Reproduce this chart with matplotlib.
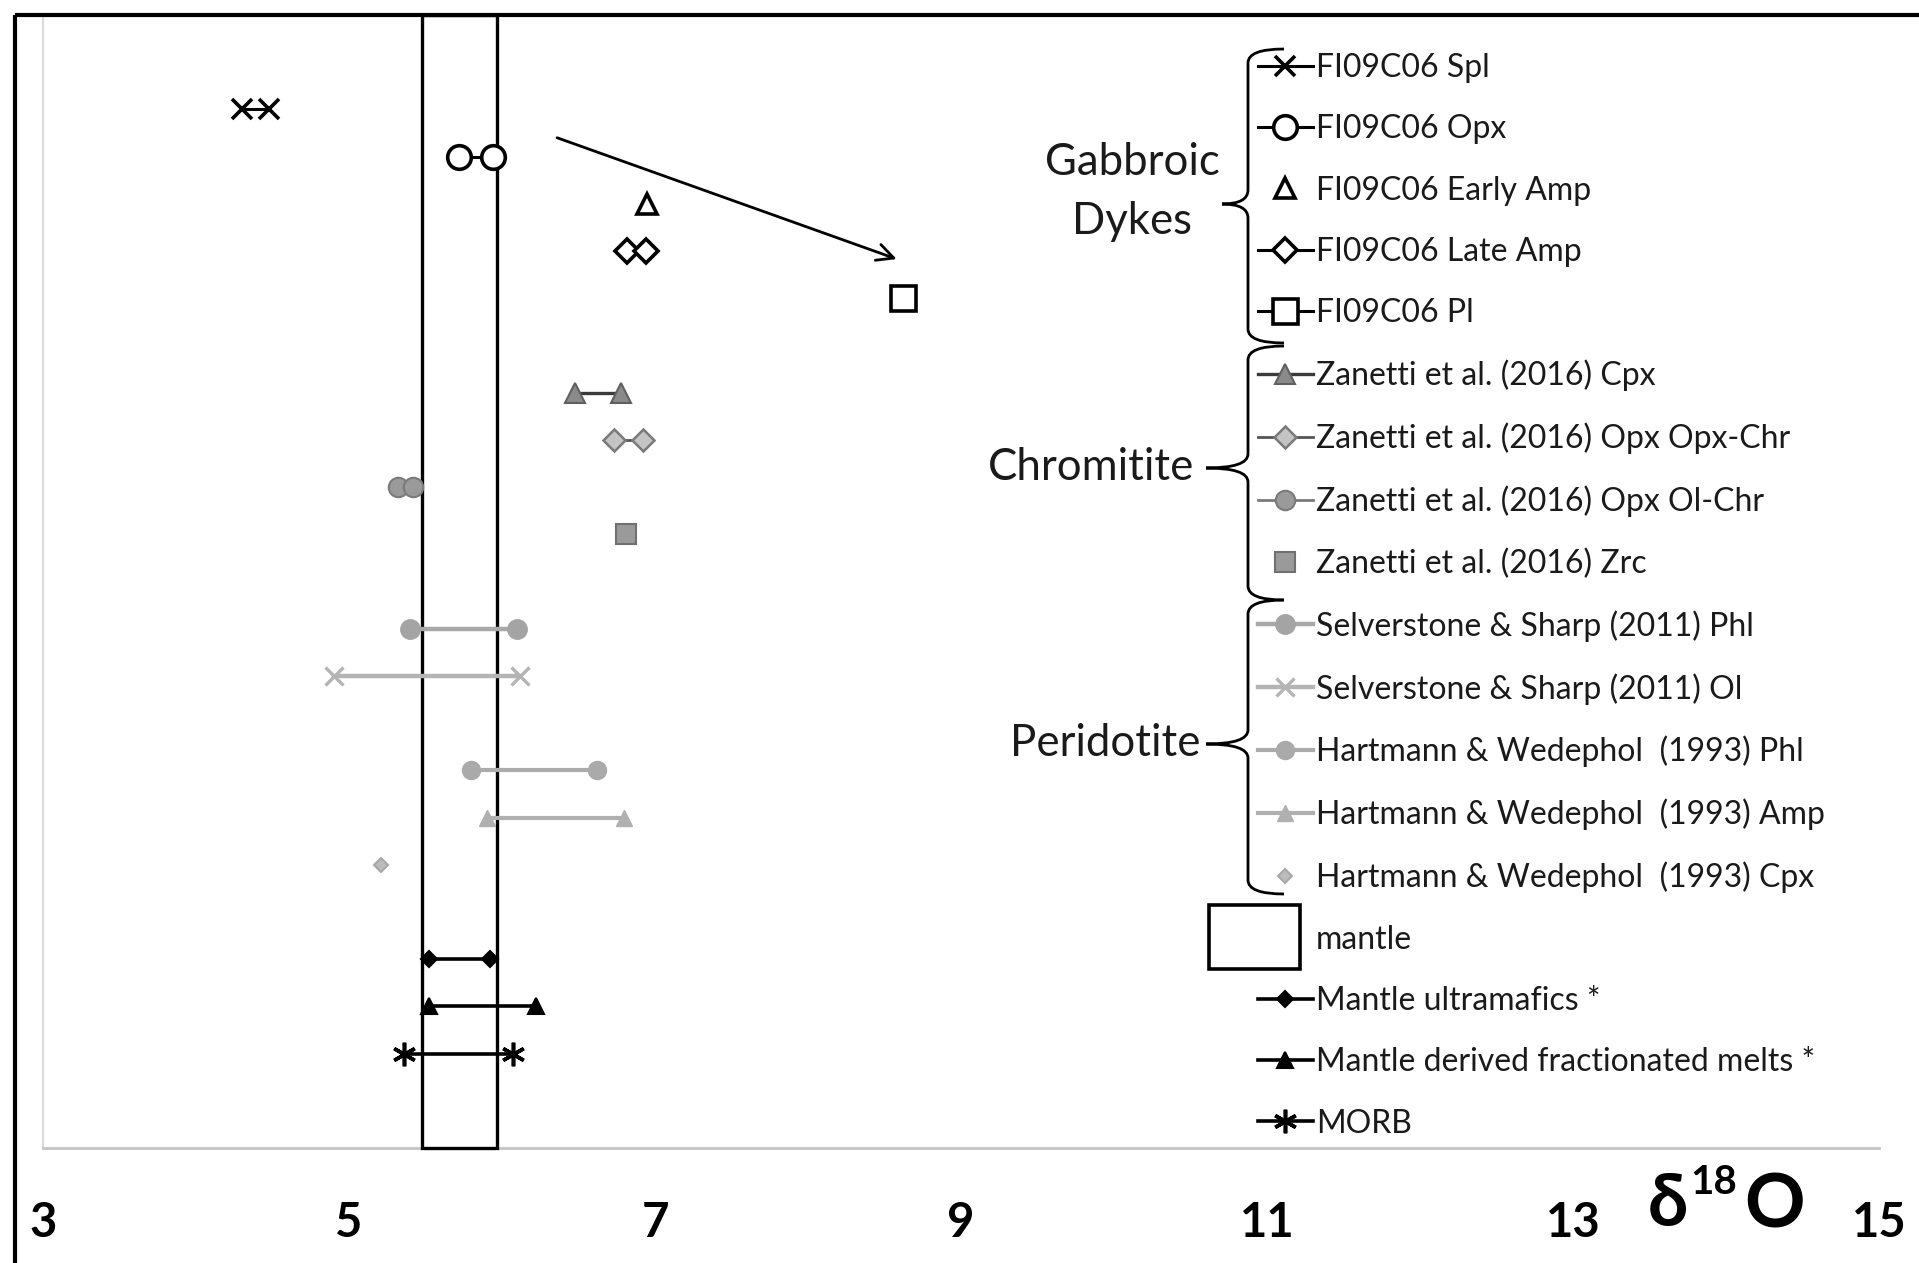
import matplotlib
matplotlib.use("Agg")
import matplotlib.pyplot as plt
from matplotlib.patches import Rectangle, PathPatch
from matplotlib.path import Path
from matplotlib.legend_handler import HandlerPatch
from matplotlib.transforms import Affine2D

plt.rcParams['font.family'] = ['Lato', 'DejaVu Sans']

W, H, DPI = 1919, 1263, 100

# ---- data: delta-18O (permil) of each sample group, and its row on the chart ----
series_labels = [
    "FI09C06 Spl", "FI09C06 Opx", "FI09C06 Early Amp", "FI09C06 Late Amp", "FI09C06 Pl",
    "Zanetti et al. (2016) Cpx", "Zanetti et al. (2016) Opx Opx-Chr",
    "Zanetti et al. (2016) Opx Ol-Chr", "Zanetti et al. (2016) Zrc",
    "Selverstone & Sharp (2011) Phl", "Selverstone & Sharp (2011) Ol",
    "Hartmann & Wedephol  (1993) Phl", "Hartmann & Wedephol  (1993) Amp",
    "Hartmann & Wedephol  (1993) Cpx",
    "Mantle ultramafics *", "Mantle derived fractionated melts *", "MORB",
]
spl = [4.30, 4.48]
opx = [5.72, 5.94]
early_amp = [6.95]
late_amp = [6.82, 6.94]
pl = [8.62]
zan_cpx = [6.48, 6.78]
zan_opx_opxchr = [6.73, 6.92]
zan_opx_olchr = [5.32, 5.42]
zan_zrc = [6.81]
sel_phl = [5.40, 6.10]
sel_ol = [4.90, 6.12]
har_phl = [5.80, 6.62]
har_amp = [5.90, 6.80]
har_cpx = [5.21]
mantle_ultramafics = [5.52, 5.92]
mantle_melts = [5.52, 6.22]
morb = [5.36, 6.07]
series_values = [spl, opx, early_amp, late_amp, pl, zan_cpx, zan_opx_opxchr,
                 zan_opx_olchr, zan_zrc, sel_phl, sel_ol, har_phl, har_amp, har_cpx,
                 mantle_ultramafics, mantle_melts, morb]
series_rows = [22, 21, 20, 19, 18, 16, 15, 14, 13, 11, 10, 8, 7, 6, 4, 3, 2]

mantle_range = [5.48, 5.97]
mantle_label = "mantle"
x_ticks = [3, 5, 7, 9, 11, 13, 15]
group_labels = ["Gabbroic\nDykes", "Chromitite", "Peridotite"]
# arrow from the Opx pair towards the plagioclase value
arrow_from = (6.36, 21.4)
arrow_to = (8.58, 18.83)

# ---- marker / line styles, one per series ----
K = "black"
asterisk = (6, 2, 0)
styles = [
    dict(marker="x", ms=15, mew=2.6, color=K, lw=2.2),
    dict(marker="o", ms=17, mew=2.6, mfc="white", mec=K, color=K, lw=2.2),
    dict(marker="^", ms=15, mew=2.6, mfc="white", mec=K, ls="none"),
    dict(marker="D", ms=12, mew=2.6, mfc="white", mec=K, color=K, lw=2.2),
    dict(marker="s", ms=18, mew=2.6, mfc="white", mec=K, color=K, lw=2.2),
    dict(marker="^", ms=14, mew=1.5, mfc="#8a8a8a", mec="#606060", color="#3a3a3a", lw=2.4),
    dict(marker="D", ms=11, mew=1.8, mfc="#c4c4c4", mec="#7a7a7a", color="#555555", lw=2.0),
    dict(marker="o", ms=14, mew=1.5, mfc="#9a9a9a", mec="#7a7a7a", color="#7a7a7a", lw=2.0),
    dict(marker="s", ms=14, mew=1.5, mfc="#9a9a9a", mec="#707070", ls="none"),
    dict(marker="o", ms=14, mew=1.0, mfc="#a4a4a4", mec="#a4a4a4", color="#a8a8a8", lw=3.2),
    dict(marker="x", ms=13, mew=2.4, color="#b4b4b4", lw=3.2),
    dict(marker="o", ms=13, mew=1.0, mfc="#aaaaaa", mec="#aaaaaa", color="#ababab", lw=3.0),
    dict(marker="^", ms=12, mew=1.0, mfc="#b0b0b0", mec="#b0b0b0", color="#b0b0b0", lw=3.0),
    dict(marker="D", ms=7, mew=1.5, mfc="#bcbcbc", mec="#a8a8a8", ls="none"),
    dict(marker="D", ms=8, mew=1.5, color=K, lw=2.6),
    dict(marker="^", ms=11, mew=1.5, color=K, lw=2.6),
    dict(marker=asterisk, ms=17, mew=2.6, color=K, lw=2.6),
]

fig = plt.figure(figsize=(W / DPI, H / DPI), dpi=DPI)
fig.patch.set_facecolor("white")

# axes box in pixels: x=3 at 43 px, x=15 at 1879 px; y=0 at 1148 px, y=24 at 15 px
ax_l, ax_r, ax_b, ax_t = 43, 1879, 1148, 15
ax = fig.add_axes([ax_l / W, 1 - ax_b / H, (ax_r - ax_l) / W, (ax_b - ax_t) / H])
ax.set_xlim(3, 15)
ax.set_ylim(0, 24)
ax.set_facecolor("none")

for s in ("top", "right"):
    ax.spines[s].set_visible(False)
ax.spines["left"].set_color("#dadada")
ax.spines["left"].set_linewidth(1.5)
ax.spines["bottom"].set_color("#c4c4c4")
ax.spines["bottom"].set_linewidth(2.0)
ax.set_yticks([])
ax.set_xticks(x_ticks)
ax.set_xticklabels([str(t) for t in x_ticks], fontsize=34, fontweight="bold")
ax.tick_params(axis="x", length=0, pad=38)

# mantle field
mantle = Rectangle((mantle_range[0], 0), mantle_range[1] - mantle_range[0], 24,
                   fill=False, ec=K, lw=2.4, zorder=3, clip_on=False, label=mantle_label)
ax.add_patch(mantle)

handles = []
for xs, yrow, lab, st in zip(series_values, series_rows, series_labels, styles):
    (ln,) = ax.plot(xs, [yrow] * len(xs), label=lab, zorder=4, clip_on=False, **st)
    handles.append(ln)

ax.annotate("", xy=arrow_to, xytext=arrow_from,
            arrowprops=dict(arrowstyle="->", lw=2.0, color=K, mutation_scale=30,
                            shrinkA=0, shrinkB=0))


# legend: larger, left-shifted box for the mantle entry
def mantle_box(legend, orig_handle, xdescent, ydescent, width, height, fontsize):
    return Rectangle((-xdescent - 35, -ydescent + height / 2 - 23), 65, 46)


leg_fs = 23
leg_handles = handles[:14] + [mantle] + handles[14:]
leg_labels = series_labels[:14] + [mantle_label] + series_labels[14:]
leg = ax.legend(leg_handles, leg_labels, loc="upper left",
                bbox_to_anchor=(1258 / W, 1 - 53 / H), bbox_transform=fig.transFigure,
                frameon=False, fontsize=leg_fs, numpoints=1, handlelength=1.72,
                handletextpad=0.1, labelspacing=0.98, borderpad=0, borderaxespad=0,
                handler_map={Rectangle: HandlerPatch(patch_func=mantle_box)})
for t in leg.get_texts():
    t.set_color("#1a1a1a")
for h in leg.legend_handles:
    if isinstance(h, Rectangle):
        h.set_fill(False)
        h.set_edgecolor(K)
        h.set_linewidth(2.6)

# group braces (pixel coordinates, y downward)
px = Affine2D().scale(1 / W, -1 / H).translate(0, 1) + fig.transFigure


def brace(x, y0, y1, ytip, tip, hook=36, r=14):
    verts = [(x + hook, y0), (x, y0), (x, y0 + r),
             (x, ytip - r), (x, ytip), (x - tip, ytip),
             (x, ytip), (x, ytip + r),
             (x, y1 - r), (x, y1), (x + hook, y1)]
    codes = [Path.MOVETO, Path.CURVE3, Path.CURVE3,
             Path.LINETO, Path.CURVE3, Path.CURVE3,
             Path.CURVE3, Path.CURVE3,
             Path.LINETO, Path.CURVE3, Path.CURVE3]
    fig.patches.append(PathPatch(Path(verts, codes), fill=False, ec=K, lw=2.0,
                                 transform=px, figure=fig))


brace(1248, 49, 343, 204, 26)
brace(1248, 346, 600, 468, 42)
brace(1248, 600, 894, 744, 42)

fig.text(1132 / W, 1 - 192 / H, group_labels[0], ha="center", va="center",
         fontsize=31.5, linespacing=1.55, color="#1a1a1a")
fig.text(1194 / W, 1 - 468 / H, group_labels[1], ha="right", va="center",
         fontsize=31.5, color="#1a1a1a")
fig.text(1200 / W, 1 - 744 / H, group_labels[2], ha="right", va="center",
         fontsize=31.5, color="#1a1a1a")

# axis title
fig.text(1648 / W, 1 - 1206 / H, "δ", ha="left", va="center", fontsize=52,
         fontweight="bold", family=["Lato", "DejaVu Sans"])
fig.text(1690 / W, 1 - 1182 / H, "18", ha="left", va="center", fontsize=29,
         fontweight="bold")
fig.text(1744 / W, 1 - 1206 / H, "O", ha="left", va="center", fontsize=54,
         fontweight="bold")

# outer frame, running off the right and bottom edges
fig.patches.append(Rectangle((15, 15), W + 40, H + 40, fill=False, ec=K, lw=3.0,
                             transform=px, figure=fig))

fig.savefig("out.png", dpi=DPI, facecolor="white")
